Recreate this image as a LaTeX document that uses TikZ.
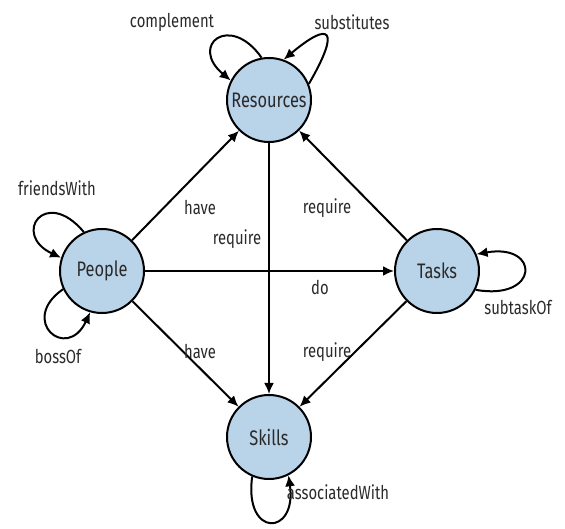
\documentclass[tikz,border=0pt]{standalone}
\usepackage{fontspec}
\setmainfont[FakeStretch=0.78]{Fira Sans}
\usetikzlibrary{arrows.meta}
\definecolor{nodefill}{HTML}{B9D3E9}
\definecolor{inktext}{HTML}{2A2A2A}
\tikzset{
  entity/.style={circle, draw=black, line width=2pt, fill=nodefill,
    minimum size=84pt, inner sep=0pt, text=inktext, font=\fontsize{21}{24}\selectfont},
  lbl/.style={text=inktext, font=\fontsize{19}{22}\selectfont, inner sep=0pt},
  rel/.style={line width=2pt, -{Latex[length=11pt,width=10pt]}},
}
\begin{document}
\begin{tikzpicture}[x=1pt,y=1pt]
\useasboundingbox (0,0) rectangle (565,529);
% entities
\node[entity] (res) at (269,429) {Resources};
\node[entity] (ppl) at (102,258) {People};
\node[entity] (tsk) at (437,258) {Tasks};
\node[entity] (skl) at (269,92) {Skills};
% relations between entities
\draw[rel] (ppl) -- (res);
\draw[rel] (tsk) -- (res);
\draw[rel] (res) -- (skl);
\draw[rel] (ppl) -- (tsk);
\draw[rel] (ppl) -- (skl);
\draw[rel] (tsk) -- (skl);
% self relations
\draw[rel] (res.100) .. controls +(125:55) and +(140:55) .. (res.153);
\draw[rel] (res.22) .. controls +(60:65) and +(40:60) .. (res.70);
\draw[rel] (ppl.115) .. controls +(130:60) and +(155:55) .. (ppl.162);
\draw[rel] (ppl.205) .. controls +(215:55) and +(245:55) .. (ppl.254);
\draw[rel] (tsk.334) .. controls +(350:65) and +(10:65) .. (tsk.23);
\draw[rel] (skl.247) .. controls +(262:62) and +(278:62) .. (skl.297);
% relation labels
\node[lbl] (l1) at (200,321) {have};
\node[lbl] (l2) at (237,290) {require};
\node[lbl] (l3) at (327,321) {require};
\node[lbl] (l4) at (320,242) {do};
\node[lbl] (l5) at (200,177) {have};
\node[lbl] (l6) at (327,177) {require};
\node[lbl] (l7) at (172,507) {complement};
\node[lbl] (l8) at (352,507) {substitutes};
\node[lbl] (l9) at (57,341) {friendsWith};
\node[lbl] (l10) at (58,173) {bossOf};
\node[lbl] (l11) at (518,222) {subtaskOf};
\node[lbl] (l12) at (338,37) {associatedWith};
\end{tikzpicture}
\end{document}
